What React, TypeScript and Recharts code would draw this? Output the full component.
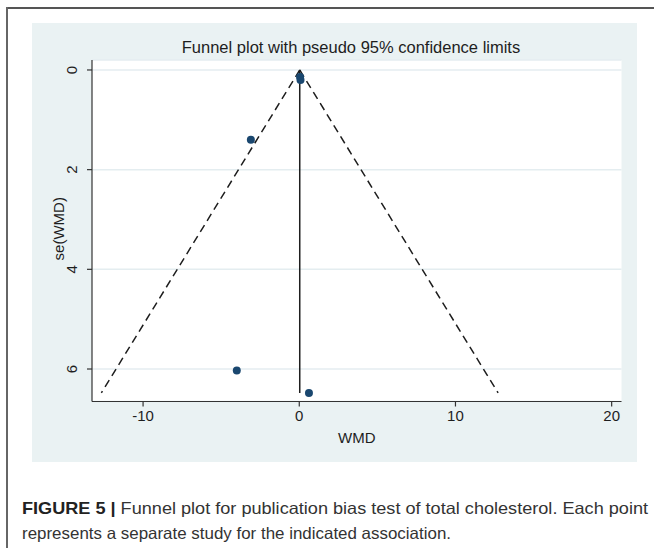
import React from 'react';
import { ComposedChart, XAxis, YAxis, CartesianGrid, Scatter, Line } from 'recharts';

// Study estimates
const studyWMD = [0.05, 0.08, -3.1, -4.0, 0.62];
const studySE = [0.14, 0.2, 1.4, 6.03, 6.48];

// Pooled estimate (vertical line) and pseudo 95% limits
const pooledWMD = [0.03, 0.03];
const pooledSE = [0, 6.48];
const lowerLimitWMD = [0.03, -12.67];
const upperLimitWMD = [0.03, 12.73];
const limitSE = [0, 6.48];

const xTicks = [-10, 0, 10, 20];
const yTicks = [0, 2, 4, 6];
const xDomain = [-13.27, 20.63];
const yDomain = [-0.2, 6.652];

const points = studyWMD.map((x, i) => ({ x, y: studySE[i] }));
const pooledLine = pooledWMD.map((x, i) => ({ x, y: pooledSE[i] }));
const lowerLine = lowerLimitWMD.map((x, i) => ({ x, y: limitSE[i] }));
const upperLine = upperLimitWMD.map((x, i) => ({ x, y: limitSE[i] }));

const FONT = '"Liberation Sans", Arial, sans-serif';
const NAVY = '#1a476f';
const INK = '#1e1e1e';

const YTick = (props: any) => {
  const { x, y, payload } = props;
  return (
    <text x={x} y={y} transform={`rotate(-90, ${x}, ${y})`} textAnchor="middle"
      fontSize={15} fill={INK} fontFamily={FONT}>{payload.value}</text>
  );
};

const XTick = (props: any) => {
  const { x, y, payload } = props;
  return (
    <text x={x} y={y + 10.5} textAnchor="middle" fontSize={15} fill={INK} fontFamily={FONT}>
      {payload.value}
    </text>
  );
};

const Dot = (props: any) => <circle cx={props.cx} cy={props.cy} r={4} fill={NAVY} />;

export default function App() {
  return (
    <div style={{ position: 'absolute', left: 0, top: 0, width: 654, height: 548, background: '#fff', overflow: 'hidden' }}>
      {/* outer frame */}
      <div style={{ position: 'absolute', left: 6, top: 7, width: 648, height: 2, background: '#555' }} />
      <div style={{ position: 'absolute', left: 6, top: 7, width: 2, height: 541, background: '#666' }} />
      {/* graph panel */}
      <div style={{ position: 'absolute', left: 32, top: 23, width: 605, height: 439, background: '#eaf2f3' }} />
      <div style={{ position: 'absolute', left: 0, top: 0 }}>
        <ComposedChart width={654} height={548} margin={{ top: 60, right: 32.5, bottom: 86.5, left: 32 }}>
          <CartesianGrid vertical={false} fill="#ffffff" stroke="#e4edf0" strokeWidth={1.5} />
          <XAxis type="number" dataKey="x" domain={xDomain} ticks={xTicks} allowDataOverflow
            height={60} tickSize={5} tickMargin={4} tick={<XTick />}
            axisLine={{ stroke: '#333', strokeWidth: 1.2 }} tickLine={{ stroke: '#333', strokeWidth: 1.2 }}
            label={{ content: (p: any) => (
              <text x={p.viewBox.x + p.viewBox.width / 2} y={p.viewBox.y + 41} textAnchor="middle"
                fontSize={15} fill={INK} fontFamily={FONT}>WMD</text>
            ) }} />
          <YAxis type="number" dataKey="y" domain={yDomain} ticks={yTicks} reversed allowDataOverflow
            width={60} tickSize={5} tickMargin={10} tick={<YTick />}
            axisLine={{ stroke: '#333', strokeWidth: 1.2 }} tickLine={{ stroke: '#333', strokeWidth: 1.2 }}
            label={{ content: (p: any) => {
              const lx = p.viewBox.x + 31.5;
              const ly = p.viewBox.y + p.viewBox.height / 2 - 2;
              return (
                <text x={lx} y={ly} transform={`rotate(-90, ${lx}, ${ly})`} textAnchor="middle"
                  fontSize={15} fill={INK} fontFamily={FONT}>se(WMD)</text>
              );
            } }} />
          <Line data={lowerLine} dataKey="y" type="linear" stroke={INK} strokeWidth={1.5}
            strokeDasharray="8 5" dot={false} activeDot={false} isAnimationActive={false} />
          <Line data={upperLine} dataKey="y" type="linear" stroke={INK} strokeWidth={1.5}
            strokeDasharray="8 5" dot={false} activeDot={false} isAnimationActive={false} />
          <Line data={pooledLine} dataKey="y" type="linear" stroke={INK} strokeWidth={1.5}
            dot={false} activeDot={false} isAnimationActive={false} />
          <Scatter data={points} dataKey="y" shape={<Dot />} isAnimationActive={false} />
        </ComposedChart>
      </div>
      <svg width={654} height={548} style={{ position: 'absolute', left: 0, top: 0, pointerEvents: 'none' }}>
        <text x={351} y={53} textAnchor="middle" fontSize={16.5} fill={INK} fontFamily={FONT}>
          Funnel plot with pseudo 95% confidence limits
        </text>
        <text x={22} y={514} fontSize={16.5} fill="#333" fontFamily={FONT}
          textLength={626} lengthAdjust="spacingAndGlyphs">
          <tspan fontWeight="bold" fill="#222">FIGURE 5 |</tspan>
          <tspan> Funnel plot for publication bias test of total cholesterol. Each point</tspan>
        </text>
        <text x={22} y={538.5} fontSize={16.5} fill="#333" fontFamily={FONT}
          textLength={429} lengthAdjust="spacingAndGlyphs">
          represents a separate study for the indicated association.
        </text>
      </svg>
    </div>
  );
}
